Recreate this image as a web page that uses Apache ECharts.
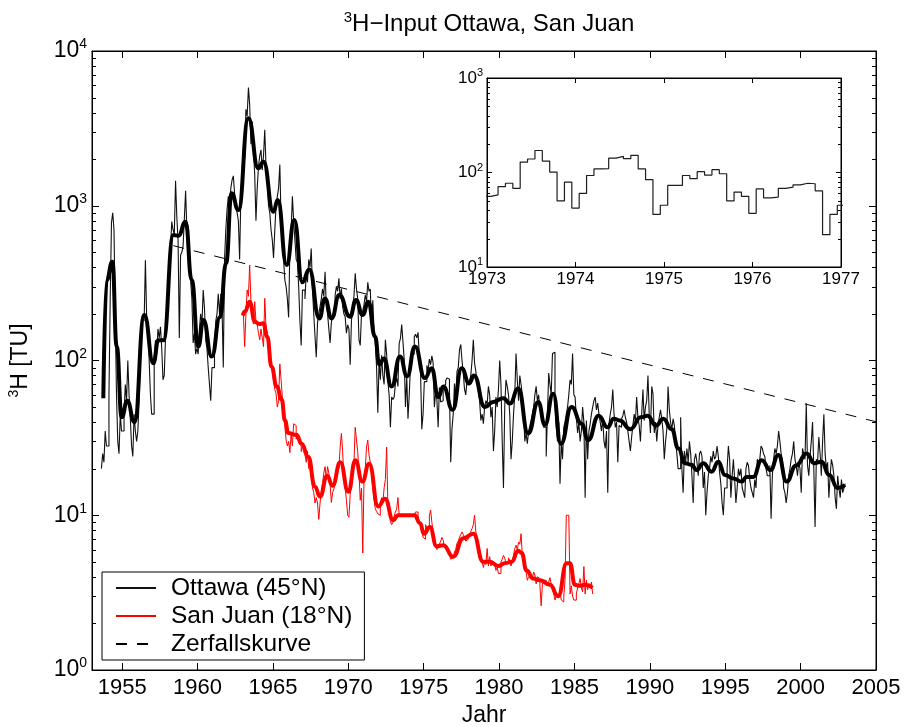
<!DOCTYPE html>
<html><head><meta charset="utf-8">
<script src="https://cdn.jsdelivr.net/npm/echarts@6/dist/echarts.min.js"></script>
<style>html,body{margin:0;padding:0;background:#fff}#c{width:905px;height:727px}</style>
</head><body><div id="c"></div>
<script>
// ---------- DATA ----------
// Ottawa monthly tritium (TU), first month = Aug 1953
const ottawaStart = [1953, 8];
const ottawaTU = [
  20, 25, 22, 35, 28,
  28, 60, 250, 780, 900, 700, 200, 60, 30, 25, 45, 35,
  35, 45, 70, 55, 100, 60, 42, 28, 24, 45, 35, 30,
  35, 55, 110, 150, 200, 180, 445, 190, 170, 100, 60, 45,
  45, 100, 135, 110, 160, 140, 165, 120, 75, 80, 140, 200,
  300, 420, 540, 790, 700, 650, 1450, 850, 600, 140, 480, 500,
  550, 820, 1250, 700, 600, 450, 330, 250, 130, 150, 110, 120,
  110, 160, 200, 170, 285, 220, 135, 120, 90, 70, 55, 90,
  90, 120, 180, 200, 270, 200, 270, 220, 90, 450, 700, 950,
  1150, 1000, 1300, 1470, 1560, 1200, 1000, 900, 800, 450, 1200, 1700,
  2400, 2000, 4200, 3800, 5800, 4500, 2500, 3500, 2300, 1600, 800, 1300,
  1800, 2100, 2300, 1700, 2100, 3100, 1800, 1400, 1000, 900, 700, 600,
  460, 700, 1000, 1150, 1300, 1850, 800, 700, 450, 330, 300, 250,
  190, 540, 700, 1150, 800, 600, 450, 430, 300, 180, 125, 285,
  285, 250, 366, 320, 450, 400, 530, 285, 200, 143, 105, 175,
  200, 223, 250, 290, 260, 375, 223, 200, 160, 130, 175, 200,
  200, 263, 300, 280, 340, 250, 292, 223, 200, 192, 150, 170,
  160, 94, 180, 223, 260, 366, 290, 250, 136, 125, 200, 210,
  230, 265, 240, 320, 280, 290, 165, 245, 156, 130, 90, 46,
  100, 75, 108, 80, 70, 136, 110, 73, 60, 37, 58, 56,
  58, 71, 77, 68, 129, 139, 171, 132, 101, 50, 79, 42,
  60, 93, 109, 110, 142, 148, 140, 152, 109, 84, 36, 45,
  73, 73, 93, 86, 102, 94, 107, 97, 50, 62, 56, 37,
  67, 54, 55, 68, 70, 74, 77, 76, 64, 22, 36, 45,
  71, 50, 85, 90, 117, 127, 100, 83, 65, 60, 75, 70,
  74, 80, 100, 136, 96, 85, 71, 65, 55, 41, 45, 39,
  50, 55, 52, 68, 60, 43, 50, 26, 35, 58, 50, 65,
  100, 70, 30, 15, 50, 75, 68, 60, 45, 23, 30, 45,
  60, 111, 75, 55, 80, 70, 60, 45, 30, 34, 29, 35,
  38, 41, 45, 50, 60, 68, 55, 60, 48, 45, 40, 37,
  37, 24, 45, 83, 70, 60, 111, 113, 53, 37, 30, 40,
  16, 30, 23, 37, 40, 45, 50, 60, 75, 70, 111, 60,
  58, 43, 34, 40, 30, 35, 50, 40, 13, 41, 23, 35,
  39, 45, 50, 55, 58, 48, 53, 45, 40, 35, 42, 30,
  27, 35, 14, 39, 45, 50, 65, 45, 37, 40, 22, 38,
  37, 42, 44, 48, 43, 40, 35, 30, 26, 32, 38, 45,
  40, 58, 43, 38, 30, 45, 65, 41, 50, 55, 80, 45,
  34, 68, 61, 34, 40, 30, 38, 43, 48, 42, 35, 23,
  30, 36, 68, 48, 40, 36, 42, 38, 30, 25, 20, 20,
  43, 20, 14, 26, 22, 27, 22, 30, 25, 18, 12, 23,
  25, 22, 18, 25, 26, 24, 15, 19, 10, 14, 18, 20,
  24, 22, 26, 23, 24, 28, 24, 19, 16, 12, 10, 15,
  15, 20, 28, 23, 13, 18, 23, 17, 12, 15, 20, 18,
  20, 15, 14, 13, 20, 22, 21, 17, 15, 14, 13, 17,
  15, 23, 22, 23, 28, 27, 25, 24, 20, 18, 18, 21,
  9.5, 18, 23, 27, 25, 28, 35, 30, 25, 23, 15, 14,
  12, 14, 18, 20, 23, 25, 30, 23, 21, 18, 22, 20,
  14, 27, 25, 23, 53, 21, 18, 24, 30, 40, 20, 8.4,
  23, 22, 32, 25, 18, 30, 45, 25, 20, 22, 13, 18,
  23, 21, 18, 13, 11, 18, 15, 13, 17, 14, 15, 16
];
// San Juan monthly tritium (TU), first month = Jan 1963
const sanJuanStart = [1963, 1];
const sanJuanTU = [
  200, 123, 200, 286, 260, 414, 240, 212, 172, 240, 180, 170,
  150, 136, 160, 140, 123, 252, 165, 150, 123, 110, 96, 85,
  75, 65, 61, 50, 55, 95, 75, 58, 45, 37.5, 30.6, 28,
  30, 25.4, 34, 28, 39, 38, 31, 34, 29.5, 30, 25.8, 28,
  28, 25, 22, 26, 20, 19.5, 18, 15, 14, 12, 13, 12,
  9.4, 12, 14.4, 16, 18.7, 20.6, 17, 20.6, 18.7, 16, 12.1, 14,
  14.8, 16, 18.7, 22, 20, 27.6, 33.8, 25.8, 17, 15, 12.5, 10,
  9.7, 13.6, 16, 20, 22, 37, 30.6, 25.8, 18.7, 12.5, 15, 5.7,
  17, 20, 27.6, 30.6, 24.5, 22, 18.7, 15, 12.5, 11, 10.6, 10.2,
  10, 11.8, 13, 12, 15, 17, 27.6, 11.4, 12, 9.1, 8.7, 9,
  9.9, 10.5, 11, 13, 10, 10, 10, 10, 10, 10, 10, 10,
  10, 10, 10, 10, 10.2, 10.5, 10.5, 9.9, 9, 8.7, 7.9, 7.2,
  7, 8.7, 8.3, 8.5, 9.9, 10.8, 9, 7.9, 7, 6.6, 6.0, 6.3,
  6.5, 6.8, 7.2, 6.9, 6.2, 6.3, 6, 5.8, 5.5, 5.2, 5.3, 5.4,
  5.8, 6, 6.6, 6.8, 7.2, 7.5, 7.8, 7.5, 7.2, 6.8, 7, 7.4,
  7.4, 7.9, 8.2, 8.7, 10, 7.8, 7.2, 6.5, 6, 5.5, 5.0, 4.6,
  5.0, 4.8, 6.1, 4.7, 5.4, 4.7, 5, 4.9, 4.8, 4.4, 4.6, 4.2,
  4.2, 5.0, 5.2, 5.5, 5.3, 4.9, 5.0, 5.3, 5.1, 4.7, 5.0, 5.5,
  6.1, 6.4, 6, 6.7, 6.5, 7.6, 5.5, 5.0, 4.7, 4.3, 3.8, 4.0,
  4.1, 4.0, 3.9, 4.3, 4.1, 3.6, 4.0, 3.9, 3.5, 2.6, 3.6, 3.8,
  3.8, 3.6, 3.55, 3.7, 3.95, 3.6, 3.4, 3.1, 2.83, 3.0, 2.96, 3.1,
  3.2, 2.83, 2.75, 3.0, 3.8, 10, 10, 10, 3.1, 3.5, 3.0, 2.83,
  2.83, 3.1, 3.4, 3.6, 3.9, 3.4, 3.2, 4.66, 3.1, 3.8, 3.3, 3.6,
  3.4, 3.7, 3.1
];
// smoothed curves [year, TU]
const ottawaSmooth = [
  [1953.75,57],[1953.97,331],[1954.35,435],[1954.64,123],[1954.97,43],[1955.34,55],[1955.81,40],
  [1956.47,197],[1957.07,96],[1957.4,135],[1957.73,135],[1958.4,647],[1958.73,640],[1959.21,789],
  [1959.61,331],[1960.05,123],[1960.39,183],[1960.94,106],[1961.49,190],[1961.89,425],[1962.26,1204],
  [1962.71,938],[1963.37,3673],[1964.03,1745],[1964.37,1928],[1965.03,916],[1965.32,1090],[1965.91,414],
  [1966.42,809],[1966.95,320],[1967.41,388],[1968.08,187],[1968.45,252],[1968.89,187],[1969.4,265],
  [1970.11,192],[1970.51,246],[1970.95,197],[1971.33,240],[1971.77,143],[1972.06,94],[1972.36,103],
  [1972.87,68],[1973.43,106],[1973.9,79],[1974.42,123],[1975.08,77],[1975.53,89],[1975.97,58],
  [1976.3,68],[1976.92,48],[1977.52,89],[1978.02,71],[1978.33,80],[1979.06,50],[1979.6,54],
  [1980.28,57],[1980.72,52.8],[1981.27,66],[1981.93,33.8],[1982.6,54],[1983.04,38.3],[1983.59,61],
  [1984.1,29],[1984.81,50],[1985.47,39],[1985.91,30.6],[1986.6,44],[1987.2,37],[1987.6,42],
  [1988.0,41],[1988.7,36],[1989.4,43],[1989.85,44],[1990.4,38],[1990.89,42],[1991.45,36],
  [1991.89,27],[1992.33,21.7],[1992.77,21.2],[1993.1,19.6],[1993.54,21.7],[1994.1,19.1],[1994.54,22.2],
  [1994.98,18.2],[1995.53,17.3],[1996.09,16.5],[1996.42,17.7],[1996.86,17.7],[1997.41,22.7],[1998.0,19.6],
  [1998.52,24.5],[1999.07,16.5],[1999.7,21],[2000.4,25.1],[2000.9,21.7],[2001.39,22.2],[2001.9,18.2],
  [2002.45,15],[2002.94,15.7]
];
const sanJuanSmooth = [
  [1963.0,195],[1963.15,207],[1963.45,240],[1963.81,178],[1964.1,172],[1964.36,174],[1964.62,143],
  [1964.91,91],[1965.25,68],[1965.58,56],[1965.8,41],[1966.02,34],[1966.57,33],[1966.9,29],
  [1967.34,23.9],[1967.79,15.3],[1968.12,13.2],[1968.6,18],[1968.95,15.5],[1969.47,22],[1970.0,14.2],
  [1970.47,22.7],[1970.93,16.5],[1971.38,21.5],[1971.99,11.4],[1972.43,12.8],[1972.98,9.3],[1973.3,10],
  [1974.4,10],[1974.75,8.9],[1975.02,7.6],[1975.41,8.4],[1975.86,6.3],[1976.3,6.4],[1976.96,5.4],
  [1977.63,7.1],[1978.29,7.6],[1978.95,5.0],[1979.4,5.0],[1979.94,4.7],[1980.39,4.9],[1980.83,5.0],
  [1981.27,5.9],[1981.5,5.7],[1981.82,4.4],[1982.27,3.9],[1982.71,3.8],[1983.37,3.55],[1983.92,3.0],
  [1984.48,4.9],[1984.7,4.9],[1985.03,3.55],[1985.36,3.5],[1985.69,3.55],[1986.2,3.4]
];
// decay curve end points (straight on log axis)
const decayCurve = [[1958.4, 552], [2005, 40.2]];
const xRange = [1953, 2005];
const xTicks = [1955, 1960, 1965, 1970, 1975, 1980, 1985, 1990, 1995, 2000, 2005];
const yRange = [1, 10000];
const yMinorTicks = [2,3,4,5,6,7,8,9,20,30,40,50,60,70,80,90,200,300,400,500,600,700,800,900,2000,3000,4000,5000,6000,7000,8000,9000];
const insetXRange = [1973, 1977];
const insetYRange = [10, 1000];
const insetYMinorTicks = [20,30,40,50,60,70,80,90,200,300,400,500,600,700,800,900];
const legendNames = ['Ottawa (45°N)', 'San Juan (18°N)', 'Zerfallskurve'];

// ---------- BUILD ----------
function monthly(start, vals) {
  return vals.map((v, i) => {
    const m = start[1] - 1 + i;
    return [start[0] + (m + 0.5) / 12, v];
  });
}
const ottawaPts = monthly(ottawaStart, ottawaTU);
const sanJuanPts = monthly(sanJuanStart, sanJuanTU);
const insetPts = ottawaPts.filter(p => p[0] > insetXRange[0] - 0.1 && p[0] < insetXRange[1] + 0.1);

const FONT = "'Liberation Sans', Arial, Helvetica, sans-serif";
const supRich = (big, small) => ({
  b: { fontSize: big, lineHeight: big + 4, fontFamily: FONT, color: '#000', fontWeight: 'normal' },
  s: { fontSize: small, lineHeight: small, verticalAlign: 'top', fontFamily: FONT, color: '#000', fontWeight: 'normal' }
});
const logFmt = v => '{b|10}{s|' + Math.round(Math.log10(v)) + '}';
const yearFmt = v => String(Math.round(v));

function minorTickSeries(xi, yi, vals, xr, len) {
  return {
    type: 'custom', xAxisIndex: xi, yAxisIndex: yi, silent: true, clip: false, z: 6,
    data: vals.map(v => [xr[0], v]),
    renderItem(params, api) {
      const v = api.value(1);
      const pl = api.coord([xr[0], v]);
      const pr = api.coord([xr[1], v]);
      const y = Math.round(pl[1]) + 0.5;
      return { type: 'group', children: [
        { type: 'line', shape: { x1: pl[0], y1: y, x2: pl[0] + len, y2: y }, style: { stroke: '#000', lineWidth: 1 } },
        { type: 'line', shape: { x1: pr[0] - len, y1: y, x2: pr[0], y2: y }, style: { stroke: '#000', lineWidth: 1 } }
      ]};
    }
  };
}

const chart = echarts.init(document.getElementById('c'), null, { renderer: 'canvas' });
const axLine = { show: true, lineStyle: { color: '#000', width: 1 } };
const option = {
  animation: false,
  backgroundColor: '#fff',
  title: {
    text: '{s|3}{b|H−Input Ottawa, San Juan}',
    left: 484, top: 5, textAlign: 'center',
    textStyle: { rich: supRich(24, 15), fontWeight: 'normal' }
  },
  legend: {
    data: legendNames,
    orient: 'vertical', left: 102, top: 572,
    itemWidth: 40, itemHeight: 14, itemGap: 0,
    padding: [2, 12, 2, 13],
    borderColor: '#000', borderWidth: 1, backgroundColor: '#fff',
    itemStyle: { opacity: 0 },
    textStyle: { fontSize: 24.5, fontFamily: FONT, color: '#000', lineHeight: 28, padding: [0, 0, 0, 10] },
    z: 20
  },
  grid: [
    { left: 92, right: 29, top: 51, bottom: 57, outerBoundsMode: 'none', show: true, borderColor: '#000', borderWidth: 1, backgroundColor: 'transparent' },
    { left: 487, top: 78, width: 354, height: 189, outerBoundsMode: 'none', show: true, borderColor: '#000', borderWidth: 1, backgroundColor: '#fff', z: 10 }
  ],
  xAxis: [
    { type: 'value', gridIndex: 0, min: xRange[0], max: xRange[1], position: 'bottom',
      name: 'Jahr', nameLocation: 'middle', nameGap: 33,
      nameTextStyle: { fontSize: 23, fontFamily: FONT, color: '#000' },
      axisLine: axLine, splitLine: { show: false },
      axisTick: { inside: true, length: 7, customValues: xTicks, lineStyle: { color: '#000' } },
      axisLabel: { customValues: xTicks, formatter: yearFmt, fontSize: 22, fontFamily: FONT, color: '#000', margin: 7 } },
    { type: 'value', gridIndex: 0, min: xRange[0], max: xRange[1], position: 'top',
      axisLine: axLine, splitLine: { show: false },
      axisTick: { inside: true, length: 7, customValues: xTicks, lineStyle: { color: '#000' } },
      axisLabel: { show: false } },
    { type: 'value', gridIndex: 1, min: insetXRange[0], max: insetXRange[1], interval: 1, position: 'bottom',
      axisLine: axLine, splitLine: { show: false },
      axisTick: { inside: true, length: 5, lineStyle: { color: '#000' } },
      axisLabel: { formatter: yearFmt, fontSize: 17, fontFamily: FONT, color: '#000', margin: 4 }, z: 11 },
    { type: 'value', gridIndex: 1, min: insetXRange[0], max: insetXRange[1], interval: 1, position: 'top',
      axisLine: axLine, splitLine: { show: false },
      axisTick: { inside: true, length: 5, lineStyle: { color: '#000' } },
      axisLabel: { show: false }, z: 11 }
  ],
  yAxis: [
    { type: 'log', logBase: 10, gridIndex: 0, min: yRange[0], max: yRange[1], position: 'left',
      name: '{s|3}{b|H [TU]}', nameLocation: 'middle', nameGap: 58, nameRotate: 90,
      nameTextStyle: { rich: supRich(23, 14) },
      axisLine: axLine, splitLine: { show: false },
      axisTick: { inside: true, length: 7, lineStyle: { color: '#000' } },
      axisLabel: { formatter: logFmt, rich: supRich(23, 14), margin: 5 } },
    { type: 'log', logBase: 10, gridIndex: 0, min: yRange[0], max: yRange[1], position: 'right',
      axisLine: axLine, splitLine: { show: false },
      axisTick: { inside: true, length: 7, lineStyle: { color: '#000' } },
      axisLabel: { show: false } },
    { type: 'log', logBase: 10, gridIndex: 1, min: insetYRange[0], max: insetYRange[1], position: 'left',
      axisLine: axLine, splitLine: { show: false },
      axisTick: { inside: true, length: 5, lineStyle: { color: '#000' } },
      axisLabel: { formatter: logFmt, rich: supRich(17, 11), margin: 4 }, z: 11 },
    { type: 'log', logBase: 10, gridIndex: 1, min: insetYRange[0], max: insetYRange[1], position: 'right',
      axisLine: axLine, splitLine: { show: false },
      axisTick: { inside: true, length: 5, lineStyle: { color: '#000' } },
      axisLabel: { show: false }, z: 11 }
  ],
  series: [
    { name: 'Zerfallskurve', type: 'line', xAxisIndex: 0, yAxisIndex: 0, data: decayCurve,
      symbol: 'none', itemStyle: { color: '#000' }, lineStyle: { color: '#000', width: 1, type: [11, 10] }, z: 2 },
    { name: 'Ottawa (45°N)', type: 'line', xAxisIndex: 0, yAxisIndex: 0, data: ottawaPts, step: 'end',
      symbol: 'none', itemStyle: { color: '#000' }, lineStyle: { color: '#111', width: 1.1 }, z: 3 },
    { name: 'San Juan (18°N)', type: 'line', xAxisIndex: 0, yAxisIndex: 0, data: sanJuanPts, step: 'end',
      symbol: 'none', itemStyle: { color: '#f00' }, lineStyle: { color: '#ff0000', width: 1 }, z: 3 },
    { name: 'Ottawa smooth', type: 'line', xAxisIndex: 0, yAxisIndex: 0, data: ottawaSmooth,
      smooth: 0.5, smoothMonotone: 'x', symbol: 'none', lineStyle: { color: '#000', width: 4 }, z: 4 },
    { name: 'San Juan smooth', type: 'line', xAxisIndex: 0, yAxisIndex: 0, data: sanJuanSmooth,
      smooth: 0.5, smoothMonotone: 'x', symbol: 'none', lineStyle: { color: '#ff0000', width: 4 }, z: 4 },
    { name: 'Ottawa inset', type: 'line', xAxisIndex: 2, yAxisIndex: 2, data: insetPts, step: 'end',
      symbol: 'none', lineStyle: { color: '#1e1e1e', width: 1.2 }, z: 12, clip: true },
    minorTickSeries(0, 0, yMinorTicks, xRange, 4),
    Object.assign(minorTickSeries(2, 2, insetYMinorTicks, insetXRange, 3), { z: 13 })
  ]
};
chart.setOption(option);
</script></body></html>
